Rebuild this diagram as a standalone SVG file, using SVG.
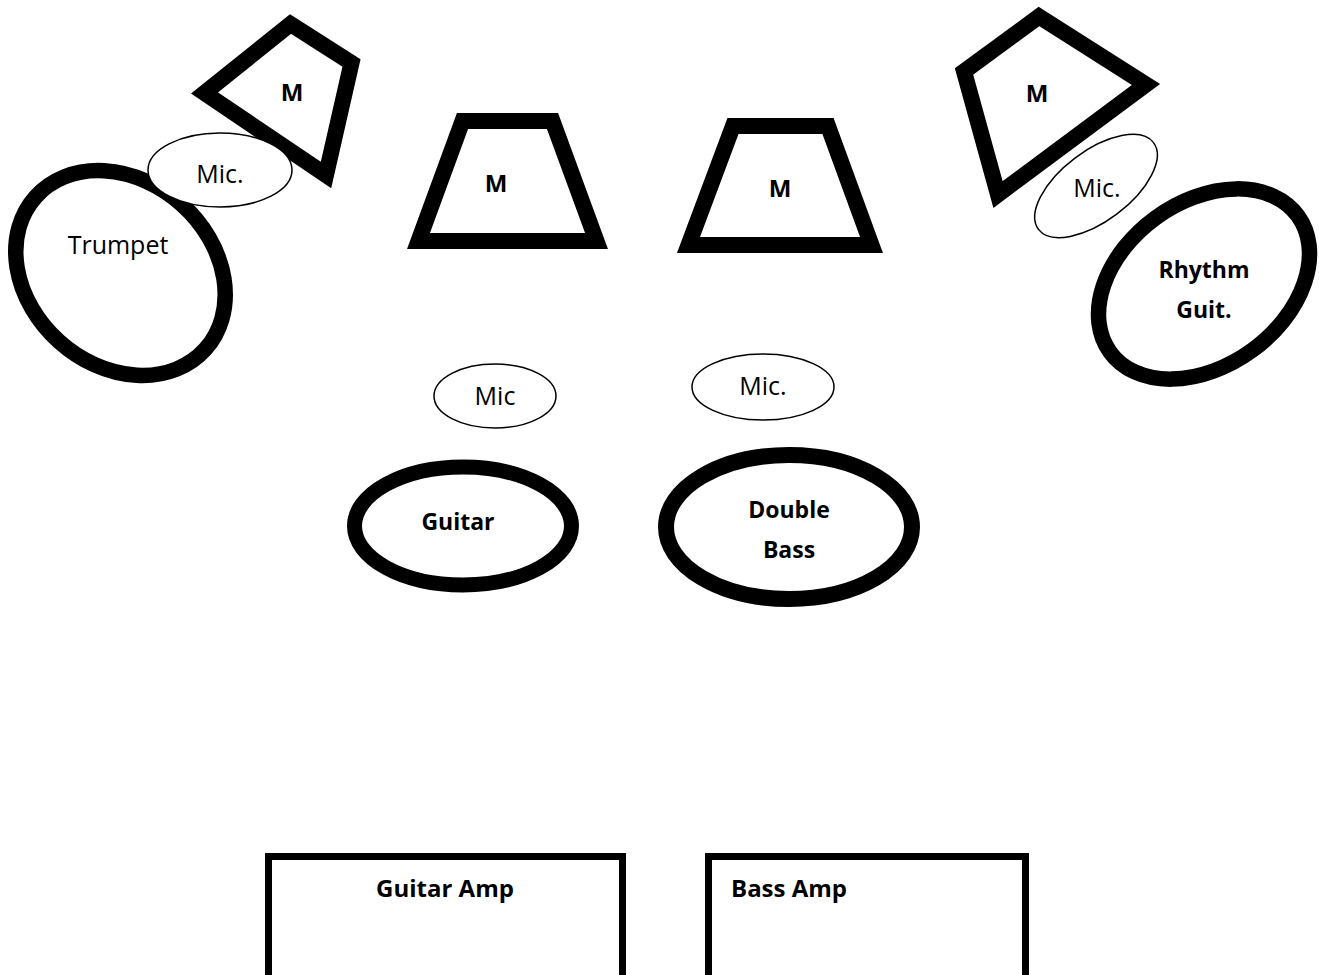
<svg xmlns="http://www.w3.org/2000/svg" width="1319" height="975" viewBox="0 0 1319 975">
<style>
  .bg { fill: #ffffff; }
  .thick { fill: #ffffff; stroke: #000000; stroke-linejoin: miter; stroke-miterlimit: 10; }
  .mic { fill: #ffffff; stroke: #000000; stroke-width: 1.5; }
  .amp { fill: #ffffff; stroke: #000000; stroke-width: 7; }
  .reg { font-family: "Open Sans", "Liberation Sans", sans-serif; font-size: 25px; fill: #000000; text-anchor: middle; }
  .bold { font-family: "Open Sans", "Liberation Sans", sans-serif; font-size: 23px; font-weight: bold; fill: #000000; text-anchor: middle; }
  .m { font-family: "Open Sans", "Liberation Sans", sans-serif; font-size: 24px; font-weight: bold; fill: #000000; text-anchor: middle; }
  .ampt { font-family: "Open Sans", "Liberation Sans", sans-serif; font-size: 24px; font-weight: bold; fill: #000000; }
</style>
<rect class="bg" x="0" y="0" width="1319" height="975"/>

<g id="trumpet">
  <ellipse class="thick" stroke-width="15.5" cx="0" cy="0" rx="114" ry="92" transform="translate(120.5 273) rotate(42)"/>
  <text class="reg" x="118" y="254">Trumpet</text>
</g>

<g id="monitor-left">
  <polygon class="thick" stroke-width="16" points="290.5,24 351.5,63 326,175 204.5,93"/>
  <text class="m" x="292" y="101">M</text>
</g>

<g id="mic-trumpet">
  <ellipse class="mic" cx="220" cy="170" rx="72" ry="37"/>
  <text class="reg" x="220" y="183">Mic.</text>
</g>

<g id="monitor-center-left">
  <polygon class="thick" stroke-width="16" points="462.5,121 552.5,121 596.5,241 418.5,241"/>
  <text class="m" x="496" y="192">M</text>
</g>

<g id="monitor-center-right">
  <polygon class="thick" stroke-width="16" points="733,126 828,126 871.5,245 688.5,245"/>
  <text class="m" x="780" y="197">M</text>
</g>

<g id="monitor-right">
  <polygon class="thick" stroke-width="16" points="1039,16.5 1146,84.5 998,194.5 964,71.5"/>
  <text class="m" x="1037" y="102">M</text>
</g>

<g id="rhythm-guitar">
  <ellipse class="thick" stroke-width="15.5" cx="0" cy="0" rx="116" ry="82" transform="translate(1204 284) rotate(-36)"/>
  <text class="bold" x="1204" y="278">Rhythm</text>
  <text class="bold" x="1204" y="318">Guit.</text>
</g>

<g id="mic-rhythm">
  <ellipse class="mic" cx="0" cy="0" rx="72" ry="35" transform="translate(1096 186) rotate(-37)"/>
  <text class="reg" x="1097" y="197">Mic.</text>
</g>

<g id="mic-guitar">
  <ellipse class="mic" cx="495" cy="396" rx="61" ry="32"/>
  <text class="reg" x="495" y="405">Mic</text>
</g>

<g id="mic-bass">
  <ellipse class="mic" cx="763" cy="387" rx="71" ry="33"/>
  <text class="reg" x="763" y="395">Mic.</text>
</g>

<g id="guitar">
  <ellipse class="thick" stroke-width="15" cx="463" cy="526" rx="108.5" ry="59"/>
  <text class="bold" x="458" y="530">Guitar</text>
</g>

<g id="double-bass">
  <ellipse class="thick" stroke-width="16" cx="789" cy="527" rx="123" ry="72"/>
  <text class="bold" x="789" y="518">Double</text>
  <text class="bold" x="789" y="558">Bass</text>
</g>

<g id="guitar-amp">
  <rect class="amp" x="268.5" y="856.5" width="354" height="140"/>
  <text class="ampt" x="445" y="897" text-anchor="middle">Guitar Amp</text>
</g>

<g id="bass-amp">
  <rect class="amp" x="708.5" y="856.5" width="317" height="140"/>
  <text class="ampt" x="731" y="897">Bass Amp</text>
</g>

<g id="connectors"></g>
</svg>
